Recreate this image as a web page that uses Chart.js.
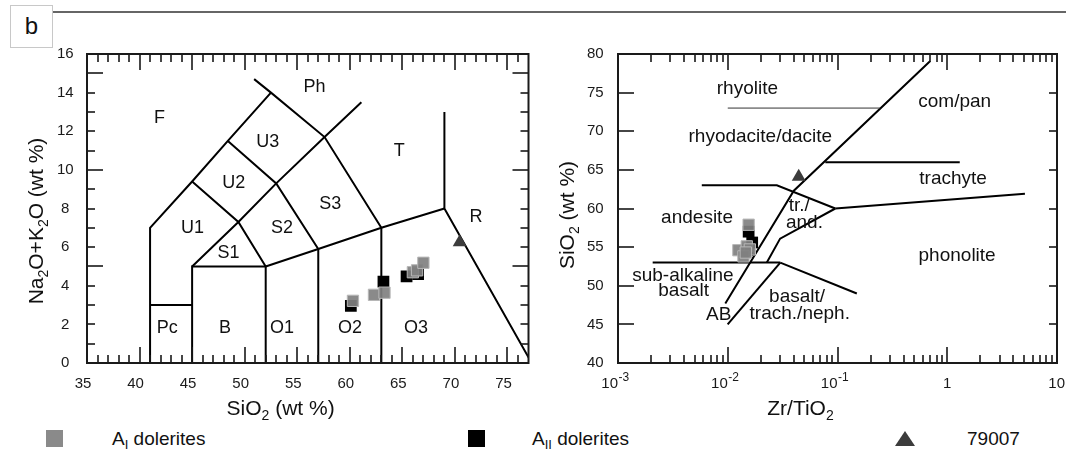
<!DOCTYPE html>
<html>
<head>
<meta charset="utf-8">
<script src="https://cdn.jsdelivr.net/npm/chart.js@4.4.1/dist/chart.umd.min.js"></script>
<style>
html,body{margin:0;padding:0;background:#fff;width:1066px;height:452px;overflow:hidden;font-family:"Liberation Sans",Arial,sans-serif;color:#111;}
canvas{position:absolute;top:0;}
#c1{left:0;}
#c2{left:540px;}
.box{position:absolute;left:10px;top:5px;width:41px;height:41px;border:1px solid #c8c8c8;}
.blet{position:absolute;left:10px;top:14px;width:43px;text-align:center;font-size:24px;line-height:24px;}
.hline{position:absolute;left:53px;right:0;top:11px;height:2px;background:#666;}
.lg{position:absolute;}
.lt{position:absolute;top:428px;font-size:19px;line-height:22px;white-space:nowrap;color:#111;}
.lt sub{font-size:13px;vertical-align:-4px;line-height:0;}
.tri{position:absolute;width:0;height:0;border-left:10px solid transparent;border-right:10px solid transparent;border-bottom:15px solid #3c3c3c;}
</style>
</head>
<body>
<div class="box"></div>
<div class="blet">b</div>
<div class="hline"></div>
<canvas id="c1" width="540" height="425"></canvas>
<canvas id="c2" width="526" height="425"></canvas>

<div class="lg" style="left:46px;top:430px;width:17px;height:17px;background:#8a8a8a;"></div>
<div class="lt" style="left:112px;">A<sub>I</sub> dolerites</div>
<div class="lg" style="left:468px;top:430px;width:17px;height:17px;background:#000;"></div>
<div class="lt" style="left:532px;">A<sub>II</sub> dolerites</div>
<div class="tri" style="left:895px;top:431px;"></div>
<div class="lt" style="left:967px;">79007</div>

<script>
// ---------- Data: left panel (TAS) ----------
const tasAIsio2  = [60.3, 62.3, 63.3, 66.0, 66.4, 67.0];
const tasAIalk   = [3.22, 3.53, 3.64, 4.70, 4.80, 5.19];
const tasAIIsio2 = [60.1, 63.2, 65.4, 66.5];
const tasAIIalk  = [2.96, 4.21, 4.48, 4.60];
const tas79007Sio2 = [70.45];
const tas79007Alk  = [6.25];

const tasFoiditeLine = [[41,0],[41,7],[45,9.4],[48.4,11.5],[52.5,14]];
const tasPcTop       = [[41,3],[45,3]];
const tasBasaltBox   = [[45,0],[45,5],[52,5],[52,0]];
const tasSDiagonal   = [[45,5],[49.4,7.3],[53,9.3],[57.6,11.7],[61.1,13.5]];
const tasU1S1Line    = [[45,9.4],[49.4,7.3],[52,5]];
const tasU2S2Line    = [[48.4,11.5],[53,9.3],[57,5.9]];
const tasPhS3Line    = [[50.9,14.7],[52.5,14],[57.6,11.7],[63,7]];
const tasOTopLine    = [[52,5],[57,5.9],[63,7],[69,8]];
const tasO2Left      = [[57,0],[57,5.9]];
const tasO3Left      = [[63,0],[63,7]];
const tasRLine       = [[69,13],[69,8],[77.3,0]];

const tasFieldNames = ['F','Ph','U3','T','U2','S3','R','U1','S2','S1','Pc','B','O1','O2','O3'];
const tasFieldX     = [41.9,56.65,52.2,64.7,48.96,58.13,72.0,45.03,53.55,48.47,42.64,48.14,53.55,60.03,66.31];
const tasFieldY     = [12.67,14.28,11.46,11.0,9.31,8.24,7.55,6.98,6.98,5.69,1.81,1.81,1.81,1.81,1.81];

const tasXTickVals = [36,37,38,39,40,41,42,43,44,45,46,47,48,49,50,51,52,53,54,55,56,57,58,59,60,61,62,63,64,65,66,67,68,69,70,71,72,73,74,75,76];
const tasYTickVals = [1,2,3,4,5,6,7,8,9,10,11,12,13,14,15];

// ---------- Data: right panel (Zr/TiO2 vs SiO2) ----------
const wfAIzr    = [0.0155, 0.0125, 0.0149, 0.0159, 0.0139, 0.0146];
const wfAIsio2  = [57.9, 54.6, 55.1, 54.7, 53.8, 54.3];
const wfAIIzr   = [0.0155, 0.0167, 0.0152];
const wfAIIsio2 = [57.0, 55.6, 54.6];
const wf79007Zr   = [0.0443];
const wf79007Sio2 = [64.1];

const wfRhyoliteLine = [[0.01,73],[0.245,73]];
const wfMainDiagonal = [[0.0095,47.7],[0.040,62.3],[0.70,79.1]];
const wfAndesiteTop  = [[0.0058,63],[0.028,63],[0.0955,60]];
const wfTrachyteBase = [[0.0955,60],[5.1,61.9]];
const wfTrachyteTop  = [[0.0774,66],[1.3,66]];
const wfTrAndBase    = [[0.0227,53],[0.030,56.1],[0.0955,60]];
const wfSubalkTop    = [[0.00207,53],[0.0301,53]];
const wfBasaltRight  = [[0.0301,53],[0.150,49]];
const wfABLine       = [[0.00998,45],[0.0301,53]];

const wfFieldNames = ['rhyolite','com/pan','rhyodacite/dacite','trachyte','tr./','and.','andesite','phonolite','sub-alkaline','basalt','AB','basalt/','trach./neph.'];
const wfFieldX     = [0.0151,1.17,0.0198,1.13,0.0449,0.050,0.00525,1.23,0.0039,0.00396,0.00826,0.0428,0.0453];
const wfFieldY     = [75.48,73.8,69.35,63.8,60.34,58.18,58.83,53.84,51.34,49.39,46.27,48.52,46.36];

const zrTickVals  = [0.001, 0.01, 0.1, 1, 10];
const zrTickBase  = ['10','10','10','1','10'];
const zrTickExp   = ['-3','-2','-1','',''];
const zrMinorTicks = [0.002,0.003,0.004,0.005,0.006,0.007,0.008,0.009,0.01,
                      0.02,0.03,0.04,0.05,0.06,0.07,0.08,0.09,0.1,
                      0.2,0.3,0.4,0.5,0.6,0.7,0.8,0.9,1,
                      2,3,4,5,6,7,8,9];
const wfYTickVals = [45,50,55,60,65,70,75];

const tasXTitle = [['SiO',''],['2','sub'],[' (wt %)','']];
const tasYTitle = [['Na',''],['2','sub'],['O+K',''],['2','sub'],['O (wt %)','']];
const wfXTitle  = [['Zr/TiO',''],['2','sub']];
const wfYTitle  = [['SiO',''],['2','sub'],[' (wt %)','']];

// ---------- helpers ----------
const FAM = "'Liberation Sans', Arial, sans-serif";
const pts = arr => arr.map(p => ({x:p[0], y:p[1]}));
const zip = (xs, ys) => xs.map((x,i) => ({x:x, y:ys[i]}));

function lineDs(arr, w, c){
  return {data: pts(arr), showLine:true, pointRadius:0, borderColor:c||'#000', borderWidth:w||2,
          backgroundColor:'transparent', fill:false, tension:0, order:5, borderJoinStyle:'miter'};
}
function grayDs(d){ return {data:d, pointStyle:'rect', pointRadius:8, backgroundColor:'rgba(128,128,128,0.92)', borderColor:'#b8b8b8', borderWidth:1, order:1}; }
function blackDs(d){ return {data:d, pointStyle:'rect', pointRadius:8.3, backgroundColor:'#000', borderColor:'#000', borderWidth:0, order:2}; }
function triDs(d){ return {data:d, pointStyle:'triangle', pointRadius:8, backgroundColor:'#3c3c3c', borderColor:'#3c3c3c', borderWidth:0, order:0}; }

function drawRich(ctx, parts, cx, base, F){
  const fs = m => m ? Math.round(F*0.68) : F;
  let w = 0;
  parts.forEach(([t,m]) => { ctx.font = fs(m)+'px '+FAM; w += ctx.measureText(t).width; });
  let x = cx - w/2;
  ctx.textAlign = 'left'; ctx.textBaseline = 'alphabetic';
  parts.forEach(([t,m]) => {
    ctx.font = fs(m)+'px '+FAM;
    const dy = m === 'sub' ? F*0.24 : (m === 'sup' ? -F*0.4 : 0);
    ctx.fillText(t, x, base + dy);
    x += ctx.measureText(t).width;
  });
}

// Frame plus inward tick marks, positioned through the chart's own scales
function makeFrame(cfg, tag){
  return {
    id:'frame' + tag,
    afterDraw(chart){
      const ctx = chart.ctx, a = chart.chartArea, xs = chart.scales.x, ys = chart.scales.y;
      ctx.save();
      ctx.fillStyle = '#1a1a1a';
      cfg.xVals.forEach(v => {
        const p = Math.round(xs.getPixelForValue(v));
        const L = cfg.xMajor(v) ? 16 : 8;
        ctx.fillRect(p - 0.8, a.bottom - L, 1.6, L);
        ctx.fillRect(p - 0.8, a.top, 1.6, L);
      });
      cfg.yVals.forEach(v => {
        const p = Math.round(ys.getPixelForValue(v));
        const L = cfg.yMajor(v) ? 16 : 8;
        const R = cfg.yRightShort ? 8 : L;
        ctx.fillRect(a.left, p - 0.8, L, 1.6);
        ctx.fillRect(a.right - R, p - 0.8, R, 1.6);
      });
      ctx.lineWidth = 2;
      ctx.strokeStyle = '#1a1a1a';
      ctx.strokeRect(a.left, a.top, a.right - a.left, a.bottom - a.top);
      ctx.restore();
    }
  };
}

function makeLabels(names, xs_, ys_, size, tag){
  return {
    id:'fieldLabels' + tag,
    afterDatasetsDraw(chart){
      const ctx = chart.ctx, xs = chart.scales.x, ys = chart.scales.y;
      ctx.save();
      ctx.fillStyle = '#111';
      ctx.font = size + 'px ' + FAM;
      ctx.textAlign = 'center'; ctx.textBaseline = 'middle';
      names.forEach((n,i) => ctx.fillText(n, xs.getPixelForValue(xs_[i]), ys.getPixelForValue(ys_[i])));
      ctx.restore();
    }
  };
}

function makeTitles(xt, xcx, xbase, yt, ybx, ycy, tag){
  return {
    id:'axisTitles' + tag,
    afterDraw(chart){
      const ctx = chart.ctx;
      ctx.save();
      ctx.fillStyle = '#111';
      drawRich(ctx, xt, xcx, xbase, 21);
      ctx.translate(ybx, ycy);
      ctx.rotate(-Math.PI/2);
      drawRich(ctx, yt, 0, 0, 21);
      ctx.restore();
    }
  };
}

const logTickLabels = {
  id:'logTickLabels',
  afterDraw(chart){
    const ctx = chart.ctx, xs = chart.scales.x, W = chart.width;
    ctx.save();
    ctx.fillStyle = '#1a1a1a';
    ctx.textBaseline = 'middle';
    zrTickVals.forEach((v,i) => {
      const px = xs.getPixelForValue(v);
      ctx.font = '15px ' + FAM;
      if (zrTickExp[i]) {
        ctx.textAlign = 'right';
        ctx.fillText(zrTickBase[i], px, 384);
        ctx.font = '12px ' + FAM;
        ctx.textAlign = 'left';
        ctx.fillText(zrTickExp[i], px + 0.5, 378);
      } else {
        const w = ctx.measureText(zrTickBase[i]).width;
        ctx.textAlign = 'center';
        ctx.fillText(zrTickBase[i], Math.min(px, W - w/2 - 1), 384);
      }
    });
    ctx.restore();
  }
};

const tickFont = {family:FAM, size:15};

// ---------- Left chart: TAS ----------
new Chart(document.getElementById('c1'), {
  type:'scatter',
  data:{datasets:[
    lineDs(tasFoiditeLine), lineDs(tasPcTop), lineDs(tasBasaltBox), lineDs(tasSDiagonal),
    lineDs(tasU1S1Line), lineDs(tasU2S2Line), lineDs(tasPhS3Line), lineDs(tasOTopLine),
    lineDs(tasO2Left), lineDs(tasO3Left), lineDs(tasRLine),
    blackDs(zip(tasAIIsio2, tasAIIalk)),
    grayDs(zip(tasAIsio2, tasAIalk)),
    triDs(zip(tas79007Sio2, tas79007Alk))
  ]},
  options:{
    responsive:false, animation:false, events:[],
    layout:{padding:{left:0, right:11, top:54, bottom:0}},
    plugins:{legend:{display:false}, tooltip:{enabled:false}},
    scales:{
      x:{type:'linear', min:35, max:77,
         afterFit(s){ s.height = 62; },
         grid:{display:false, drawTicks:false}, border:{display:false},
         ticks:{stepSize:1, autoSkip:false, maxRotation:0, padding:11.5, labelOffset:-4, font:tickFont, color:'#1a1a1a',
                callback:v => (v % 5 === 0 ? String(v) : '')}},
      y:{type:'linear', min:0, max:16,
         afterFit(s){ s.width = 87; },
         grid:{display:false, drawTicks:false}, border:{display:false},
         ticks:{stepSize:1, autoSkip:false, crossAlign:'center', padding:13.4, font:tickFont, color:'#1a1a1a',
                callback:v => (v % 2 === 0 ? String(v) : '')}}
    }
  },
  plugins:[
    makeLabels(tasFieldNames, tasFieldX, tasFieldY, 18, 'L'),
    makeTitles(tasXTitle, 280.6, 415, tasYTitle, 42.5, 221, 'L'),
    makeFrame({xVals: tasXTickVals, yVals: tasYTickVals, xMajor: v => v % 5 === 0, yMajor: v => v % 5 === 0, yRightShort:false}, 'L')
  ]
});

// ---------- Right chart: Zr/TiO2 vs SiO2 ----------
new Chart(document.getElementById('c2'), {
  type:'scatter',
  data:{datasets:[
    lineDs(wfRhyoliteLine, 1, '#333'), lineDs(wfMainDiagonal), lineDs(wfAndesiteTop),
    lineDs(wfTrachyteBase), lineDs(wfTrachyteTop), lineDs(wfTrAndBase),
    lineDs(wfSubalkTop), lineDs(wfBasaltRight), lineDs(wfABLine),
    blackDs(zip(wfAIIzr, wfAIIsio2)),
    grayDs(zip(wfAIzr, wfAIsio2)),
    triDs(zip(wf79007Zr, wf79007Sio2))
  ]},
  options:{
    responsive:false, animation:false, events:[],
    layout:{padding:{left:0, right:6, top:54, bottom:0}},
    plugins:{legend:{display:false}, tooltip:{enabled:false}},
    scales:{
      x:{type:'logarithmic', min:0.001, max:10,
         afterFit(s){ s.height = 62; },
         grid:{display:false, drawTicks:false}, border:{display:false},
         ticks:{display:false}},
      y:{type:'linear', min:40, max:80,
         afterFit(s){ s.width = 78; },
         grid:{display:false, drawTicks:false}, border:{display:false},
         ticks:{stepSize:5, autoSkip:false, crossAlign:'center', padding:14.3, font:tickFont, color:'#1a1a1a'}}
    }
  },
  plugins:[
    makeLabels(wfFieldNames, wfFieldX, wfFieldY, 19, 'R'),
    makeTitles(wfXTitle, 260.5, 415, wfYTitle, 33.5, 215, 'R'),
    logTickLabels,
    makeFrame({xVals: zrMinorTicks, yVals: wfYTickVals,
               xMajor: v => Math.abs(Math.log10(v) - Math.round(Math.log10(v))) < 1e-6,
               yMajor: () => true, yRightShort:true}, 'R')
  ]
});
</script>
</body>
</html>
